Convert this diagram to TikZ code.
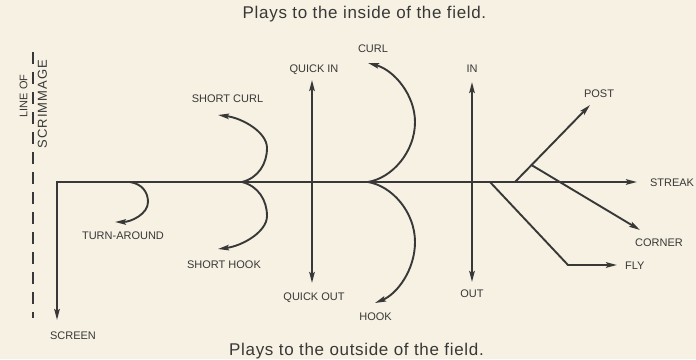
\documentclass[tikz,border=0pt]{standalone}
\usepackage{fontspec}
\setmainfont{Liberation Sans}
\newfontfamily\capfont[LetterSpace=4]{Liberation Sans}
\newfontfamily\scrimfont[LetterSpace=8]{Liberation Sans}
\usetikzlibrary{arrows.meta,calc}
\definecolor{bg}{HTML}{F6F1E2}
\definecolor{ink}{HTML}{383838}
\tikzset{
  route/.style={draw=ink, line width=1.9pt, line join=miter},
  tip/.tip={Stealth[length=11pt,width=5.5pt,inset=2pt]},
  arr/.style={route,-tip},
  darr/.style={route,tip-tip},
  lbl/.style={text=ink, inner sep=0pt, anchor=base, font=\fontsize{11}{13}\selectfont},
  captext/.style={text=ink, inner sep=0pt, anchor=base, font=\fontsize{17}{20}\selectfont\capfont},
  scrim/.style={draw=ink, line width=1.5pt, dash pattern=on 12pt off 8pt}
}
\begin{document}
\begin{tikzpicture}[x=1pt,y=-1pt]
\fill[bg] (0,0) rectangle (696,359);
% coordinates
\coordinate (o) at (57,182);
\coordinate (screenend) at (57,320);
\coordinate (streakend) at (637,182);
\coordinate (ta0) at (130,182);
\coordinate (taend) at (115,222);
\coordinate (sc0) at (242,182);
\coordinate (scend) at (218,115);
\coordinate (shend) at (218,249);
\coordinate (qin) at (312,80);
\coordinate (qout) at (312,283);
\coordinate (c0) at (368,182);
\coordinate (curlend) at (368,63);
\coordinate (hookend) at (375,303);
\coordinate (inend) at (472,82);
\coordinate (outend) at (472,282);
\coordinate (fly0) at (490,182);
\coordinate (flyturn) at (568,265);
\coordinate (flyend) at (617,265);
\coordinate (post0) at (515,182);
\coordinate (postend) at (590,105);
\coordinate (cornerend) at (640,230);
\coordinate (losTop) at (33,52);
\coordinate (losBot) at (33,318);
\coordinate (corner0) at ($(post0)!0.22!(postend)$);

% line of scrimmage
\draw[scrim] (losTop) -- (losBot);
\node[text=ink, inner sep=0pt, rotate=90, font=\fontsize{11}{13}\selectfont] (lineof) at (23.5,96) {LINE OF};
\node[text=ink, inner sep=0pt, rotate=90, font=\fontsize{13}{15}\selectfont\scrimfont] (scrimmage) at (42.5,104) {SCRIMMAGE};

% routes
\draw[darr] (screenend) -- (o) -- (streakend);
\draw[arr] (ta0) .. controls (142,184) and (148,192) .. (148,202) .. controls (148,214) and (131,222) .. (taend);
\draw[arr] (sc0) .. controls (258,178) and (267,164) .. (267,148) .. controls (267,132) and (242,118) .. (scend);
\draw[arr] (sc0) .. controls (258,186) and (267,200) .. (267,216) .. controls (267,232) and (242,246) .. (shend);
\draw[darr] (qin) -- (qout);
\draw[arr] (c0) .. controls (392,178) and (415,152) .. (415,122) .. controls (415,95) and (394,70) .. (curlend);
\draw[arr] (c0) .. controls (392,186) and (415,212) .. (415,242) .. controls (415,270) and (397,294) .. (hookend);
\draw[darr] (inend) -- (outend);
\draw[arr] (fly0) -- (flyturn) -- (flyend);
\draw[arr] (post0) -- (postend);
\draw[arr] (corner0) -- (cornerend);

% labels
\node[captext] (inside) at (364.5,19) {Plays to the inside of the field.};
\node[captext] (outside) at (356.5,356) {Plays to the outside of the field.};
\node[lbl] (screen) at (73,340) {SCREEN};
\node[lbl] (turnaround) at (123,240) {TURN-AROUND};
\node[lbl] (shortcurl) at (227.5,103) {SHORT CURL};
\node[lbl] (shorthook) at (224,269) {SHORT HOOK};
\node[lbl] (quickin) at (314,73) {QUICK IN};
\node[lbl] (quickout) at (314,301) {QUICK OUT};
\node[lbl] (curl) at (373,53) {CURL};
\node[lbl] (hook) at (375.5,321) {HOOK};
\node[lbl] (in) at (472,73) {IN};
\node[lbl] (out) at (472,298) {OUT};
\node[lbl] (post) at (599,98) {POST};
\node[lbl] (streak) at (672,187) {STREAK};
\node[lbl] (cornerlbl) at (659,247) {CORNER};
\node[lbl, anchor=base west] (fly) at (625,270) {FLY};
\end{tikzpicture}
\end{document}
